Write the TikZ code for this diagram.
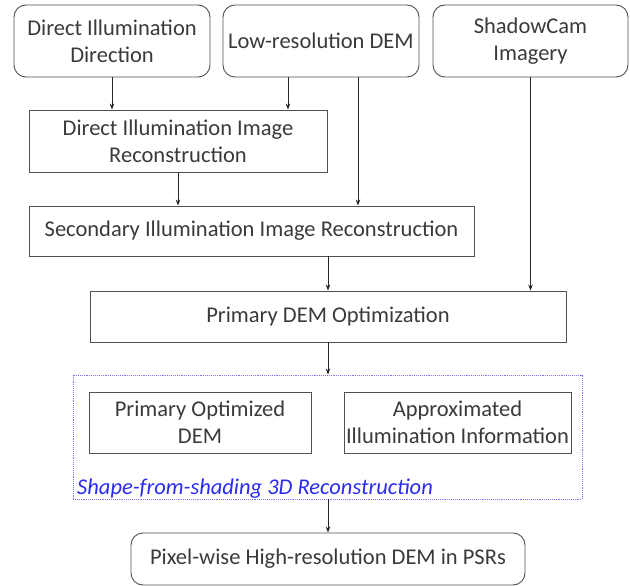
\documentclass[tikz,border=0pt]{standalone}
\usepackage{fontspec}
\setmainfont{Carlito}
\usetikzlibrary{arrows.meta,calc}
\definecolor{txt}{HTML}{3A3A3A}
\definecolor{edge}{HTML}{505050}
\definecolor{sfsblue}{HTML}{2A2AF0}
\definecolor{dashblue}{HTML}{7A7AF0}
\begin{document}
\begin{tikzpicture}[x=1pt,y=-1pt,
  base/.style={draw=edge,line width=0.9pt,text=txt,align=center,inner sep=1pt,
    font=\fontsize{22.5}{27}\selectfont},
  rbox/.style={base,rounded corners=12pt},
  sbox/.style={base},
  arr/.style={draw=black!85,line width=0.8pt,-{Stealth[length=6pt,width=4.5pt]}}]
\useasboundingbox (0,0) rectangle (630,586);
\node[rbox,minimum width=196pt,minimum height=72pt] (did) at (112,41) {Direct Illumination\\Direction};
\node[rbox,minimum width=196pt,minimum height=72pt] (lrd) at (321,41) {Low-resolution DEM};
\node[rbox,minimum width=195pt,minimum height=72pt] (sci) at (530.5,41) {ShadowCam\\Imagery};
\node[sbox,minimum width=298pt,minimum height=62pt] (diir) at (178,141) {Direct Illumination Image\\Reconstruction};
\node[sbox,minimum width=445pt,minimum height=50pt] (siir) at (251.5,231) {Secondary Illumination Image Reconstruction};
\node[sbox,minimum width=476pt,minimum height=51pt] (pdo) at (328,316.5) {Primary DEM Optimization};
\node[draw=dashblue,densely dotted,line width=0.9pt,minimum width=509pt,minimum height=124pt,inner sep=0pt] (sfs) at (327.5,437) {};
\node[sbox,minimum width=222pt,minimum height=61pt] (pod) at (200,422.5) {Primary Optimized\\DEM};
\node[sbox,minimum width=227pt,minimum height=61pt] (aii) at (457.5,422.5) {Approximated\\Illumination Information};
\node[anchor=base west,inner sep=0pt,text=sfsblue,font=\fontsize{22.5}{27}\selectfont\itshape] (sfslabel) at (77,494) {Shape-from-shading 3D Reconstruction};
\node[rbox,minimum width=394pt,minimum height=52pt] (fin) at (328,559) {Pixel-wise High-resolution DEM in PSRs};
\draw[arr] (did.south) -- (did.south |- diir.north);
\coordinate (lrdA) at ($(lrd.south)+(-33,0)$);
\coordinate (lrdB) at ($(lrd.south)+(37,0)$);
\draw[arr] (lrdA) -- (lrdA |- diir.north);
\draw[arr] (lrdB) -- (lrdB |- siir.north);
\draw[arr] (diir.south) -- (diir.south |- siir.north);
\draw[arr] (siir.south -| pdo.north) -- (pdo.north);
\draw[arr] (sci.south) -- (sci.south |- pdo.north);
\draw[arr] (pdo.south) -- (pdo.south |- sfs.north);
\draw[arr] (sfs.south -| fin.north) -- (fin.north);
\end{tikzpicture}
\end{document}
